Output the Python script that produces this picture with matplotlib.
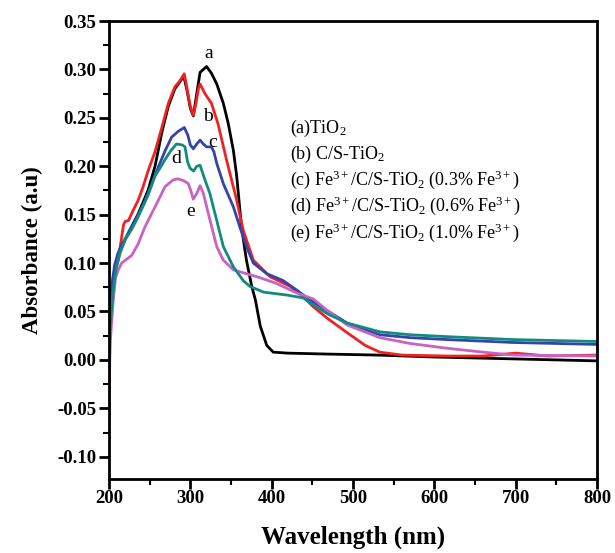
import numpy as np
import matplotlib
matplotlib.use('Agg')
import matplotlib.pyplot as plt
from matplotlib.ticker import MultipleLocator, FormatStrFormatter

plt.rcParams['font.family'] = 'Liberation Serif'
plt.rcParams['mathtext.fontset'] = 'custom'
plt.rcParams['mathtext.rm'] = 'Liberation Serif'
plt.rcParams['mathtext.it'] = 'Liberation Serif:italic'
plt.rcParams['axes.unicode_minus'] = False

# (a) TiO2 - black
wl_a = [200, 203, 208, 212, 219.7, 228, 236, 248, 256.6, 265, 273, 281, 287, 292, 296, 300,
        303.7, 307, 312, 316, 320, 326, 332.5, 340.6, 346.7, 353, 357, 363, 369, 375.5, 380,
        386, 394, 402, 420, 470, 530, 600, 700, 800]
abs_a = [0.03, 0.07, 0.095, 0.108, 0.124, 0.138, 0.151, 0.175, 0.2, 0.235, 0.262, 0.28,
         0.287, 0.293, 0.278, 0.26, 0.252, 0.27, 0.297, 0.3, 0.303, 0.296, 0.285, 0.265,
         0.244, 0.216, 0.19, 0.137, 0.103, 0.076, 0.062, 0.035, 0.015, 0.008, 0.007, 0.006,
         0.005, 0.003, 0.001, -0.001]

# (b) C/S-TiO2 - red
wl_b = [200, 203, 207, 211.5, 215.6, 218, 220, 224, 230, 236, 242, 248, 256.6, 265, 273, 281,
        287, 292.6, 296, 300, 303.7, 307, 310, 312, 318, 326, 334, 344.7, 357, 365, 377.5,
        398, 422.6, 439, 451, 470, 493, 515, 533, 560, 616, 660, 700, 740, 800]
abs_b = [0.055, 0.072, 0.09, 0.103, 0.127, 0.14, 0.143, 0.144, 0.155, 0.165, 0.179, 0.195,
         0.215, 0.24, 0.265, 0.282, 0.288, 0.2955, 0.28, 0.262, 0.2526, 0.265, 0.28, 0.285,
         0.275, 0.265, 0.244, 0.206, 0.165, 0.134, 0.103, 0.086, 0.076, 0.065, 0.055, 0.042,
         0.028, 0.015, 0.008, 0.005, 0.004, 0.004, 0.007, 0.004, 0.005]

# (c) 0.3% Fe3+ - blue
wl_c = [200, 203, 207, 211, 215, 222, 231, 242, 251, 260.6, 269, 277, 285, 292.6, 297, 300,
        303.7, 308, 312, 316, 320, 326, 329, 332.5, 340.6, 353, 361, 369, 377.5, 394, 414,
        431, 447, 470, 493, 533, 570, 616, 697, 800]
abs_c = [0.05, 0.075, 0.098, 0.11, 0.118, 0.128, 0.142, 0.16, 0.178, 0.199, 0.216, 0.23,
         0.236, 0.24, 0.232, 0.222, 0.218, 0.223, 0.227, 0.223, 0.22, 0.22, 0.215, 0.203,
         0.182, 0.158, 0.137, 0.117, 0.1, 0.089, 0.082, 0.072, 0.062, 0.05, 0.038, 0.026,
         0.023, 0.021, 0.018, 0.016]

# (d) 0.6% Fe3+ - teal
wl_d = [200, 202, 205, 209, 214, 219.7, 228, 236, 248, 256.6, 262.7, 269, 276, 283, 290,
        293.5, 296.5, 299.6, 304, 308, 312, 318, 324, 332.5, 340.6, 353, 365, 373, 390,
        418.6, 439, 451, 470, 493, 533, 570, 616, 697, 800]
abs_d = [0.005, 0.04, 0.07, 0.095, 0.112, 0.124, 0.135, 0.148, 0.17, 0.19, 0.198, 0.207,
         0.216, 0.223, 0.222, 0.22, 0.205, 0.198, 0.195, 0.2, 0.201, 0.186, 0.172, 0.144,
         0.117, 0.096, 0.082, 0.076, 0.07, 0.067, 0.064, 0.057, 0.047, 0.038, 0.029, 0.026,
         0.024, 0.021, 0.019]

# (e) 1.0% Fe3+ - magenta
wl_e = [200, 200.5, 201, 202, 205, 208, 211.5, 215.6, 221.8, 228, 236, 244, 256.6, 269, 279,
        285, 292, 297.5, 300.5, 303.7, 308, 312, 316, 324, 332.5, 340.6, 353, 369, 381.7,
        406, 431, 451, 470, 493, 533, 570, 616, 660, 697, 800]
abs_e = [-0.08, -0.03, 0.0, 0.024, 0.059, 0.085, 0.093, 0.1, 0.104, 0.108, 0.12, 0.137,
         0.158, 0.179, 0.186, 0.187, 0.185, 0.182, 0.175, 0.166, 0.172, 0.18, 0.172, 0.145,
         0.117, 0.103, 0.093, 0.089, 0.086, 0.079, 0.069, 0.063, 0.05, 0.036, 0.023, 0.017,
         0.012, 0.008, 0.005, 0.004]

legend_lines = [
    r'(a)TiO$_{2}$',
    r'(b) C/S-TiO$_{2}$',
    r'(c) Fe$^{3+}$/C/S-TiO$_{2}$ (0.3% Fe$^{3+}$)',
    r'(d) Fe$^{3+}$/C/S-TiO$_{2}$ (0.6% Fe$^{3+}$)',
    r'(e) Fe$^{3+}$/C/S-TiO$_{2}$ (1.0% Fe$^{3+}$)',
]

fig = plt.figure(figsize=(6.15, 5.53), dpi=100)
ax = fig.add_axes([0.1772, 0.1338, 0.7935, 0.8282])

ax.plot(wl_a, abs_a, color='black', lw=2)
ax.plot(wl_b, abs_b, color='#ee2222', lw=2)
ax.plot(wl_c, abs_c, color='#3344aa', lw=2)
ax.plot(wl_e, abs_e, color='#c862c4', lw=2)
ax.plot(wl_d, abs_d, color='#138a80', lw=2)

# curve letters
ax.text(322, 0.316, 'a', fontsize=14, ha='center', va='center')
ax.text(322, 0.251, 'b', fontsize=14, ha='center', va='center')
ax.text(328, 0.225, 'c', fontsize=14, ha='center', va='center')
ax.text(283, 0.208, 'd', fontsize=14, ha='center', va='center')
ax.text(300, 0.153, 'e', fontsize=14, ha='center', va='center')

for i, s in enumerate(legend_lines):
    ax.text(0.37, 0.766 - i * 0.0568, s, transform=ax.transAxes, fontsize=13,
            ha='left', va='center')

ax.set_xlim(200, 800)
ax.set_ylim(-0.123, 0.35)
ax.xaxis.set_major_locator(MultipleLocator(100))
ax.xaxis.set_minor_locator(MultipleLocator(50))
ax.yaxis.set_major_locator(MultipleLocator(0.05))
ax.yaxis.set_minor_locator(MultipleLocator(0.025))
ax.yaxis.set_major_formatter(FormatStrFormatter('%.2f'))

ax.tick_params(which='major', direction='out', length=7, width=2, labelsize=13.5, pad=2)
ax.tick_params(axis='x', which='major', pad=1)
ax.tick_params(which='minor', direction='out', length=4, width=1.5)
for lab in ax.get_xticklabels() + ax.get_yticklabels():
    lab.set_fontweight('bold')
for sp in ax.spines.values():
    sp.set_linewidth(2)

ax.set_xlabel('Wavelength (nm)', fontsize=18, fontweight='bold', labelpad=13)
ax.set_ylabel('Absorbance (a.u)', fontsize=16.5, fontweight='bold', labelpad=10)

fig.savefig('out.png', dpi=100)
